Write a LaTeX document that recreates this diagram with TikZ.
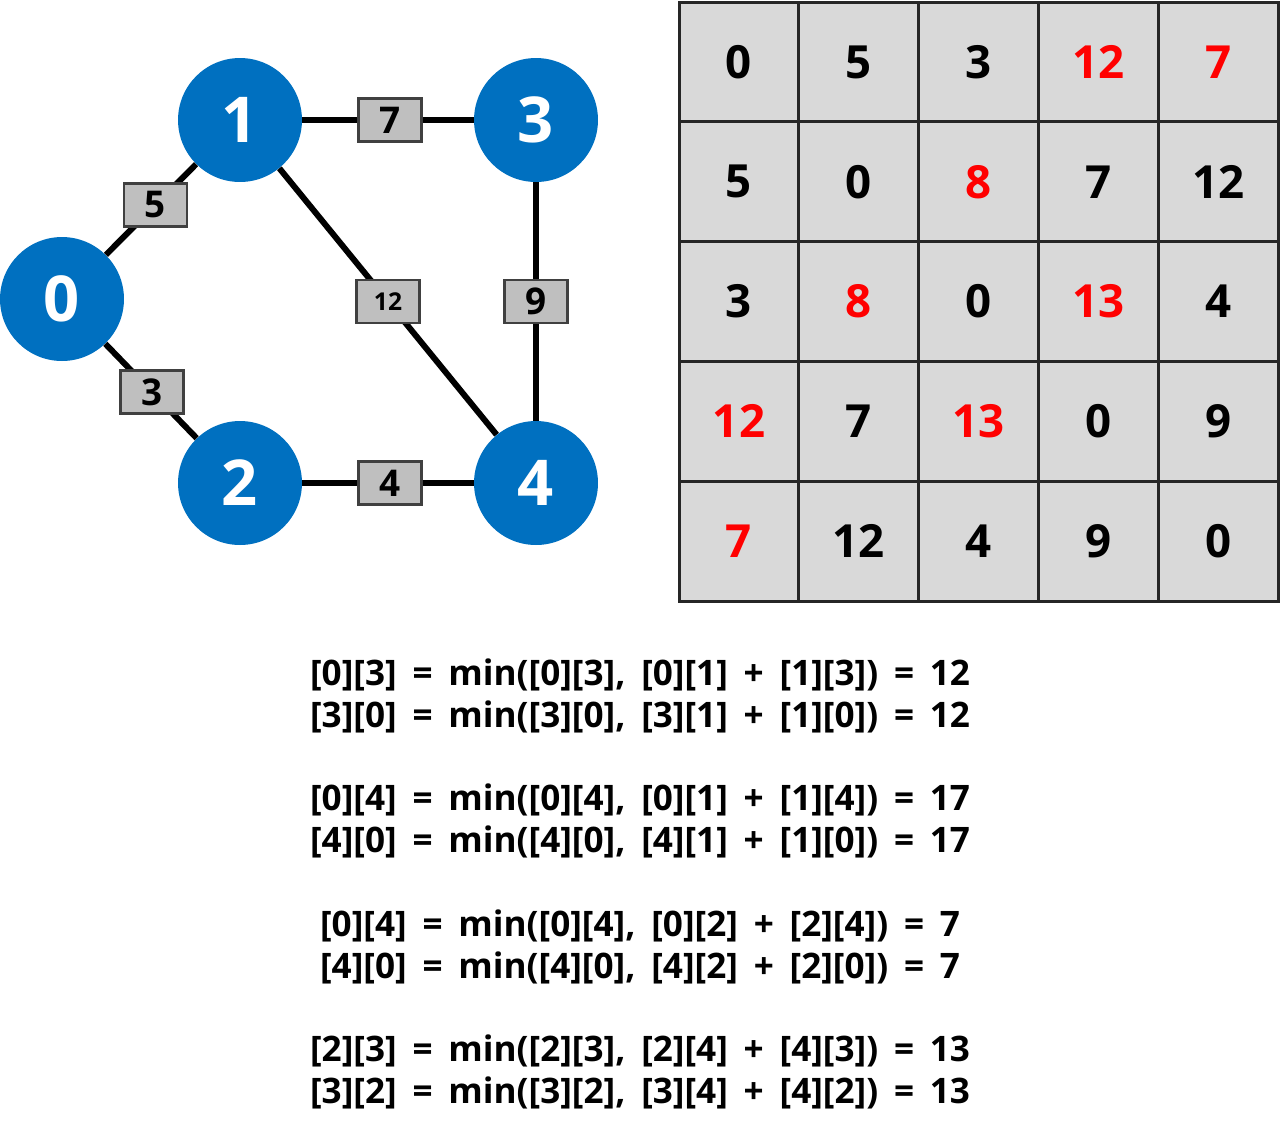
\documentclass[tikz,border=0pt]{standalone}
\usepackage{fontspec}
\setmainfont{Open Sans}
\usepackage{xcolor}
\usetikzlibrary{positioning}
\definecolor{vblue}{HTML}{0070C0}
\definecolor{wgray}{HTML}{BFBFBF}
\definecolor{wedge}{HTML}{404040}
\definecolor{cellgray}{HTML}{D9D9D9}
\definecolor{cellline}{HTML}{262626}
\definecolor{hot}{HTML}{FF0000}
\newcommand{\widegaps}{\setlength{\spaceskip}{9pt}}

\begin{document}
\begin{tikzpicture}[x=0.02cm, y=-0.02cm,
  vertex/.style={circle, fill=vblue, minimum size=2.48cm, inner sep=0pt,
    text=white, font=\fontsize{36}{40}\selectfont\bfseries},
  weight/.style={draw=wedge, line width=1.6pt, fill=wgray, minimum width=1.26cm,
    minimum height=0.86cm, inner sep=0pt, font=\fontsize{21}{24}\selectfont\bfseries},
  link/.style={line width=3.4pt, black},
  cell/.style={draw=cellline, line width=1.7pt, fill=cellgray, minimum size=2.396cm,
    inner sep=0pt, font=\fontsize{26}{30}\selectfont\bfseries},
  stepline/.style={font=\fontsize{20}{23}\selectfont\bfseries\widegaps}]
\useasboundingbox (0,0) rectangle (1280,1134);
% --- Graph vertices ---
\node[vertex] (v0) at (62,299) {0};
\node[vertex] (v1) at (240,120) {1};
\node[vertex] (v3) at (536,120) {3};
\node[vertex] (v2) at (240,483) {2};
\node[vertex] (v4) at (536,483) {4};
% --- Weighted edges ---
\draw[link] (v0) -- node[weight, pos=0.55] (w01) {5} (v1);
\draw[link] (v0) -- node[weight, pos=0.51] (w02) {3} (v2);
\draw[link] (v1) -- node[weight, pos=0.513] (w13) {7} (v3);
\draw[link] (v1) -- node[weight, font=\fontsize{14}{16}\selectfont\bfseries] (w14) {12} (v4);
\draw[link] (v3) -- node[weight] (w34) {9} (v4);
\draw[link] (v2) -- node[weight, pos=0.513] (w24) {4} (v4);

% --- Distance matrix (value/colour per row) ---
\foreach \row [count=\i from 0] in {
    {0/black,5/black,3/black,12/hot,7/hot},
    {5/black,0/black,8/hot,7/black,12/black},
    {3/black,8/hot,0/black,13/hot,4/black},
    {12/hot,7/black,13/hot,0/black,9/black},
    {7/hot,12/black,4/black,9/black,0/black}} {
  \foreach \val/\col [count=\j from 0] in \row {
    \node[cell, text=\col] (m-\i-\j) at (739+119.8*\j, 62+119.8*\i) {\val};
  }
}

% --- Update steps ---
\node[stepline] (s1) at (640,675) {[0][3] = min([0][3], [0][1] + [1][3]) = 12};
\node[stepline] (s2) at (640,717) {[3][0] = min([3][0], [3][1] + [1][0]) = 12};
\node[stepline] (s3) at (640,800) {[0][4] = min([0][4], [0][1] + [1][4]) = 17};
\node[stepline] (s4) at (640,842) {[4][0] = min([4][0], [4][1] + [1][0]) = 17};
\node[stepline] (s5) at (640,926) {[0][4] = min([0][4], [0][2] + [2][4]) = 7};
\node[stepline] (s6) at (640,968) {[4][0] = min([4][0], [4][2] + [2][0]) = 7};
\node[stepline] (s7) at (640,1051) {[2][3] = min([2][3], [2][4] + [4][3]) = 13};
\node[stepline] (s8) at (640,1093) {[3][2] = min([3][2], [3][4] + [4][2]) = 13};
\end{tikzpicture}
\end{document}
